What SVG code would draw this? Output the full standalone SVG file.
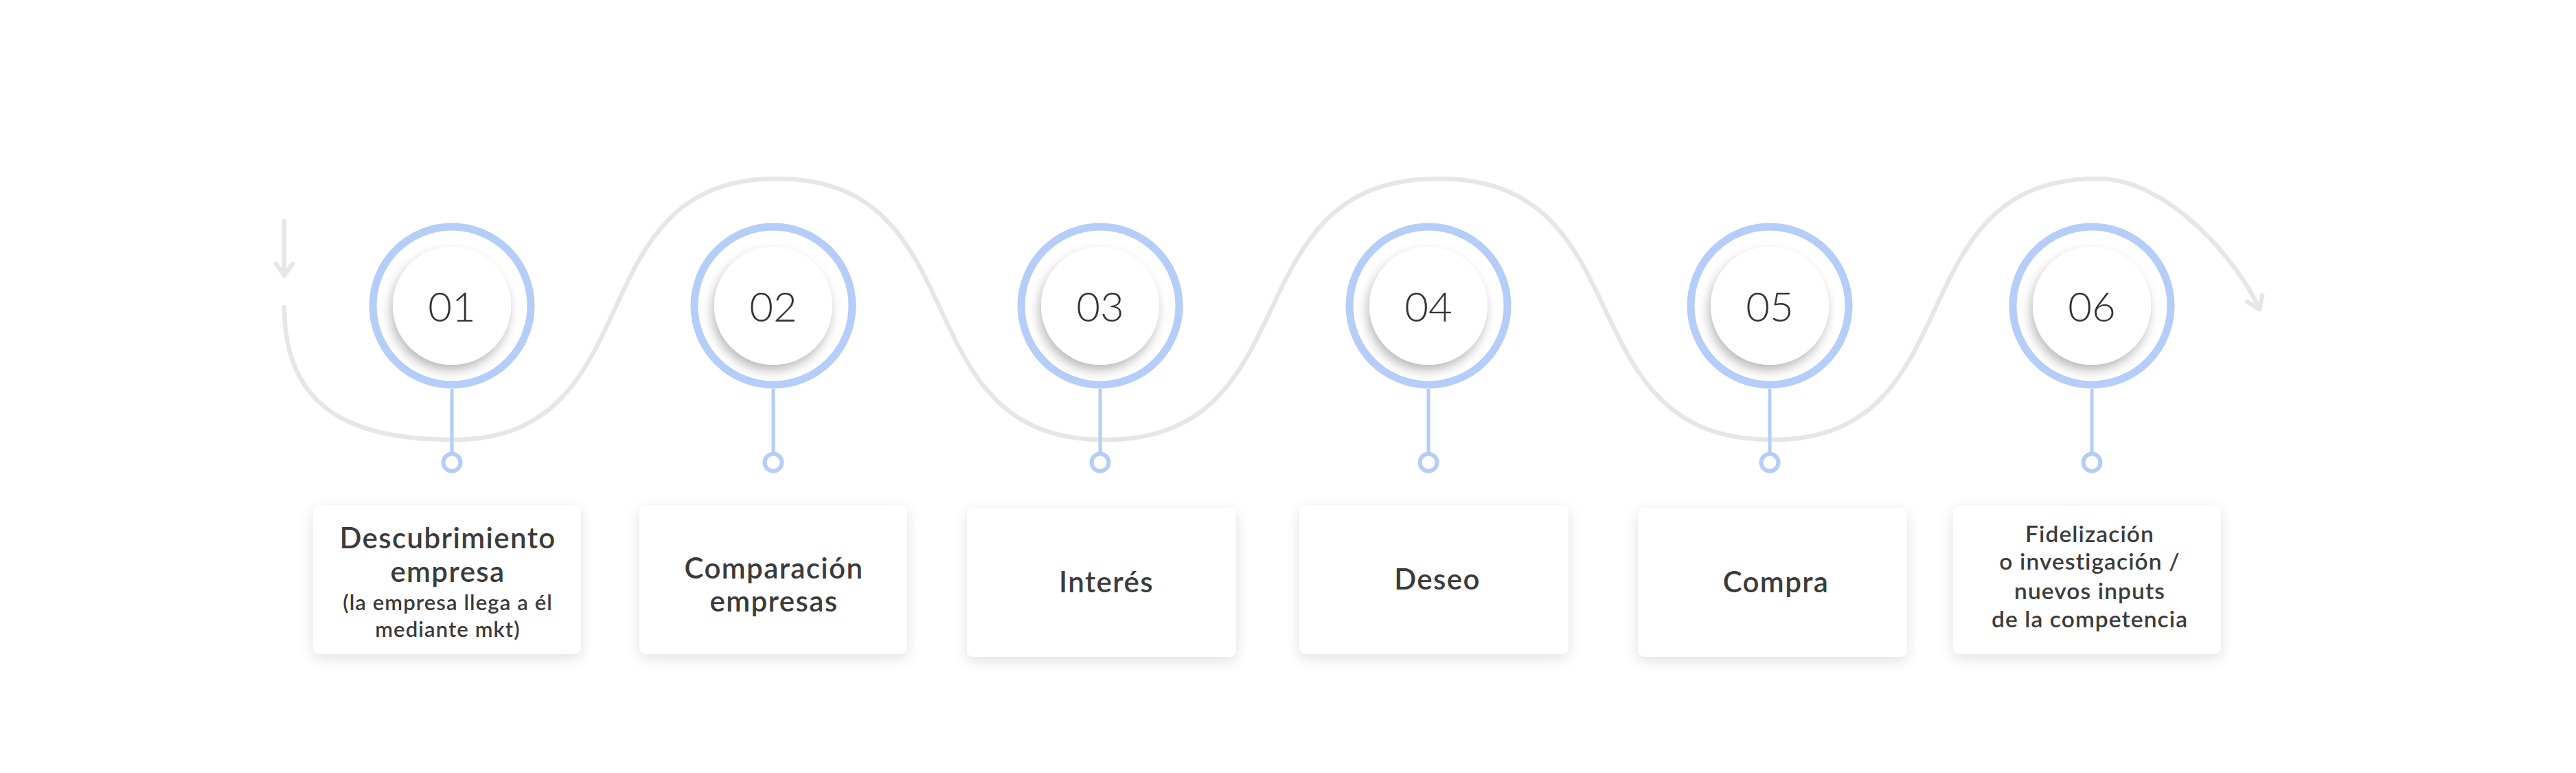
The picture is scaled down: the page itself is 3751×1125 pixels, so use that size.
<svg xmlns="http://www.w3.org/2000/svg" width="3751" height="1125" viewBox="0 0 3751 1125">
<style>
.wave{fill:none;stroke:#e6e6e6;stroke-width:6.5;stroke-linecap:round;stroke-linejoin:round}
.ring{fill:#ffffff;stroke:#b4cdf9;stroke-width:11}
.inner{fill:#ffffff;filter:url(#innerShadow)}
.stem{stroke:#b4cdf9;stroke-width:5;fill:none}
.dot{fill:#ffffff;stroke:#b4cdf9;stroke-width:6}
.num{font-family:Lato,"Open Sans","Liberation Sans",sans-serif;font-weight:300;font-size:60px;fill:#333333;text-anchor:middle}
.box{fill:#ffffff;filter:url(#boxShadow)}
.lbl{font-family:Lato,"Open Sans","Liberation Sans",sans-serif;font-weight:600;font-size:42px;letter-spacing:1.4px;fill:#3b3b3b;text-anchor:middle}
.sm{font-size:31px;letter-spacing:1.1px}
.md{font-size:33.5px;letter-spacing:1.1px}
</style>
<defs>
<filter id="innerShadow" x="-30%" y="-30%" width="160%" height="170%">
<feDropShadow dx="-3" dy="8" stdDeviation="8" flood-color="#000000" flood-opacity="0.28"/>
</filter>
<filter id="boxShadow" x="-20%" y="-30%" width="140%" height="170%">
<feDropShadow dx="0" dy="6" stdDeviation="10" flood-color="#000000" flood-opacity="0.12"/>
</filter>
<marker id="chev" viewBox="-25 -20 30 40" markerWidth="30" markerHeight="40" refX="0" refY="0" orient="auto" markerUnits="userSpaceOnUse">
<path d="M-17,-12 L0,0 L-17,12" fill="none" stroke="#e6e6e6" stroke-width="6.5" stroke-linecap="round" stroke-linejoin="round"/>
</marker>
</defs>
<rect width="3751" height="1125" fill="#ffffff"/>
<g id="connectors">
<path class="wave" d="M414,322 L414,401" marker-end="url(#chev)"/>
<path class="wave" d="M414,447 C414,600 520,640 659,640 C956,640 834,260 1131,260 C1431,260 1308,640 1608,640 C1914,640 1788,260 2094,260 C2400,260 2274,640 2580,640 C2879,640 2756,260 3055,260 C3160,260 3262,385 3290,450" marker-end="url(#chev)"/>
<path class="stem" d="M658,566 V660 M1126,566 V660 M1602,566 V660 M2080,566 V660 M2577,566 V660 M3046,566 V660"/>
</g>
<g id="node1">
<circle class="ring" cx="658" cy="445" r="115"/>
<circle class="inner" cx="658" cy="445" r="86"/>
<text class="num" x="658" y="468">01</text>
<circle class="dot" cx="658" cy="673" r="12.5"/>
<rect class="box" x="456" y="735" width="390" height="217" rx="10"/>
<text class="lbl" x="652" y="798">Descubrimiento</text>
<text class="lbl" x="652" y="847">empresa</text>
<text class="lbl sm" x="652" y="888">(la empresa llega a él</text>
<text class="lbl sm" x="652" y="927">mediante mkt)</text>
</g>
<g id="node2">
<circle class="ring" cx="1126" cy="445" r="115"/>
<circle class="inner" cx="1126" cy="445" r="86"/>
<text class="num" x="1126" y="468">02</text>
<circle class="dot" cx="1126" cy="673" r="12.5"/>
<rect class="box" x="931" y="735" width="390" height="217" rx="10"/>
<text class="lbl" x="1127" y="842">Comparación</text>
<text class="lbl" x="1127" y="890">empresas</text>
</g>
<g id="node3">
<circle class="ring" cx="1602" cy="445" r="115"/>
<circle class="inner" cx="1602" cy="445" r="86"/>
<text class="num" x="1602" y="468">03</text>
<circle class="dot" cx="1602" cy="673" r="12.5"/>
<rect class="box" x="1408" y="739" width="392" height="217" rx="10"/>
<text class="lbl" x="1611" y="862">Interés</text>
</g>
<g id="node4">
<circle class="ring" cx="2080" cy="445" r="115"/>
<circle class="inner" cx="2080" cy="445" r="86"/>
<text class="num" x="2080" y="468">04</text>
<circle class="dot" cx="2080" cy="673" r="12.5"/>
<rect class="box" x="1892" y="735" width="392" height="217" rx="10"/>
<text class="lbl" x="2093" y="858">Deseo</text>
</g>
<g id="node5">
<circle class="ring" cx="2577" cy="445" r="115"/>
<circle class="inner" cx="2577" cy="445" r="86"/>
<text class="num" x="2577" y="468">05</text>
<circle class="dot" cx="2577" cy="673" r="12.5"/>
<rect class="box" x="2385" y="739" width="392" height="217" rx="10"/>
<text class="lbl" x="2586" y="862">Compra</text>
</g>
<g id="node6">
<circle class="ring" cx="3046" cy="445" r="115"/>
<circle class="inner" cx="3046" cy="445" r="86"/>
<text class="num" x="3046" y="468">06</text>
<circle class="dot" cx="3046" cy="673" r="12.5"/>
<rect class="box" x="2844" y="736" width="390" height="216" rx="10"/>
<text class="lbl md" x="3043" y="789">Fidelización</text>
<text class="lbl md" x="3043" y="829">o investigación /</text>
<text class="lbl md" x="3043" y="872">nuevos inputs</text>
<text class="lbl md" x="3043" y="913">de la competencia</text>
</g>
</svg>
